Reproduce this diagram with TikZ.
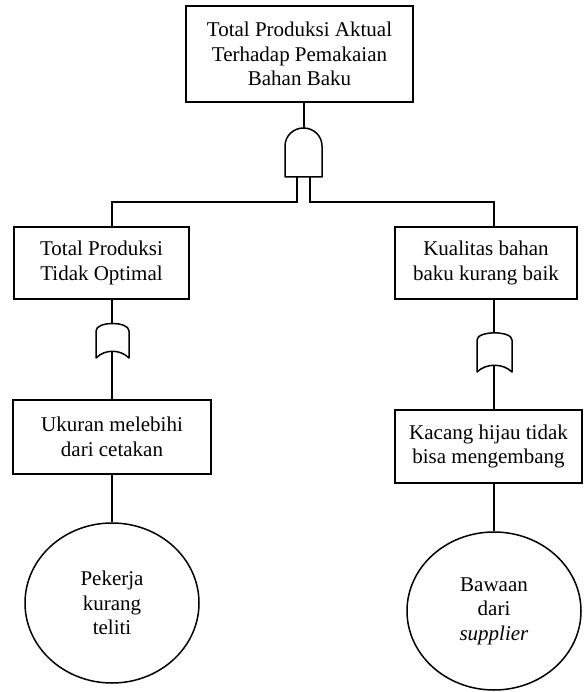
\documentclass[tikz,border=0pt]{standalone}
\usepackage{fontspec}
\setmainfont{Liberation Serif}
\usetikzlibrary{shapes.geometric}
\begin{document}
\begin{tikzpicture}[x=1pt,y=-1pt,
  every node/.style={font=\fontsize{21}{24.5}\selectfont, align=center, inner sep=0pt},
  ev/.style={draw, line width=1.5pt, rectangle},
  basic/.style={draw, line width=1.5pt, ellipse},
  wire/.style={line width=1.5pt},
  gate/.style={line width=1.5pt, fill=white, line join=round}]
\useasboundingbox (0,0) rectangle (584,692);

% events
\node[ev, minimum width=227pt, minimum height=96pt] (top) at (299.5,54) {Total Produksi Aktual\\Terhadap Pemakaian\\Bahan Baku};
\node[ev, minimum width=175pt, minimum height=72pt] (l1) at (101.5,263) {Total Produksi\\Tidak Optimal};
\node[ev, minimum width=182pt, minimum height=72pt] (r1) at (486,263) {Kualitas bahan\\baku kurang baik};
\node[ev, minimum width=198pt, minimum height=74pt] (l2) at (112,437) {Ukuran melebihi\\dari cetakan};
\node[ev, minimum width=187pt, minimum height=73pt] (r2) at (488.5,446.5) {Kacang hijau tidak\\bisa mengembang};
\node[basic, minimum width=174pt, minimum height=160pt] (l3) at (112,603) {Pekerja\\kurang\\teliti};
\node[basic, minimum width=174pt, minimum height=158pt] (r3) at (494,611) {Bawaan\\dari\\\textit{supplier}};

% gate anchor coordinates
\coordinate (andtop) at (304,128);
\coordinate (andL) at (297,177);
\coordinate (andR) at (310,177);
\coordinate (orLtop) at (112,323);
\coordinate (orLbot) at (112,352);
\coordinate (orRtop) at (494,333);
\coordinate (orRbot) at (494,366);

% connectors
\draw[wire] (top.south -| andtop) -- (andtop);
\draw[wire] (andL) -- (297,202) -| (l1.north -| orLtop);
\draw[wire] (andR) -- (310,202) -| (r1.north -| orRtop);
\draw[wire] (l1.south -| orLtop) -- (orLtop);
\draw[wire] (orLbot) -- (l2.north -| orLbot);
\draw[wire] (r1.south -| orRtop) -- (orRtop);
\draw[wire] (orRbot) -- (r2.north -| orRbot);
\draw[wire] (l2.south -| orLbot) -- (l3.north);
\draw[wire] (r2.south -| orRbot) -- (r3.north);

% AND gate
\draw[gate] (285,177) -- (285,146)
  .. controls (285,136) and (293.3,128) .. (303.5,128)
  .. controls (313.7,128) and (322,136) .. (322,146)
  -- (322,177) -- cycle;

% OR gates
\draw[gate] (96,358) -- (96,331)
  .. controls (96,321) and (129,321) .. (129,331)
  -- (129,358)
  .. controls (120,349) and (105,349) .. (96,358) -- cycle;
\draw[gate] (477,372) -- (477,340)
  .. controls (477,330.5) and (512,330.5) .. (512,340)
  -- (512,372)
  .. controls (503,363) and (486,363) .. (477,372) -- cycle;
\end{tikzpicture}
\end{document}
